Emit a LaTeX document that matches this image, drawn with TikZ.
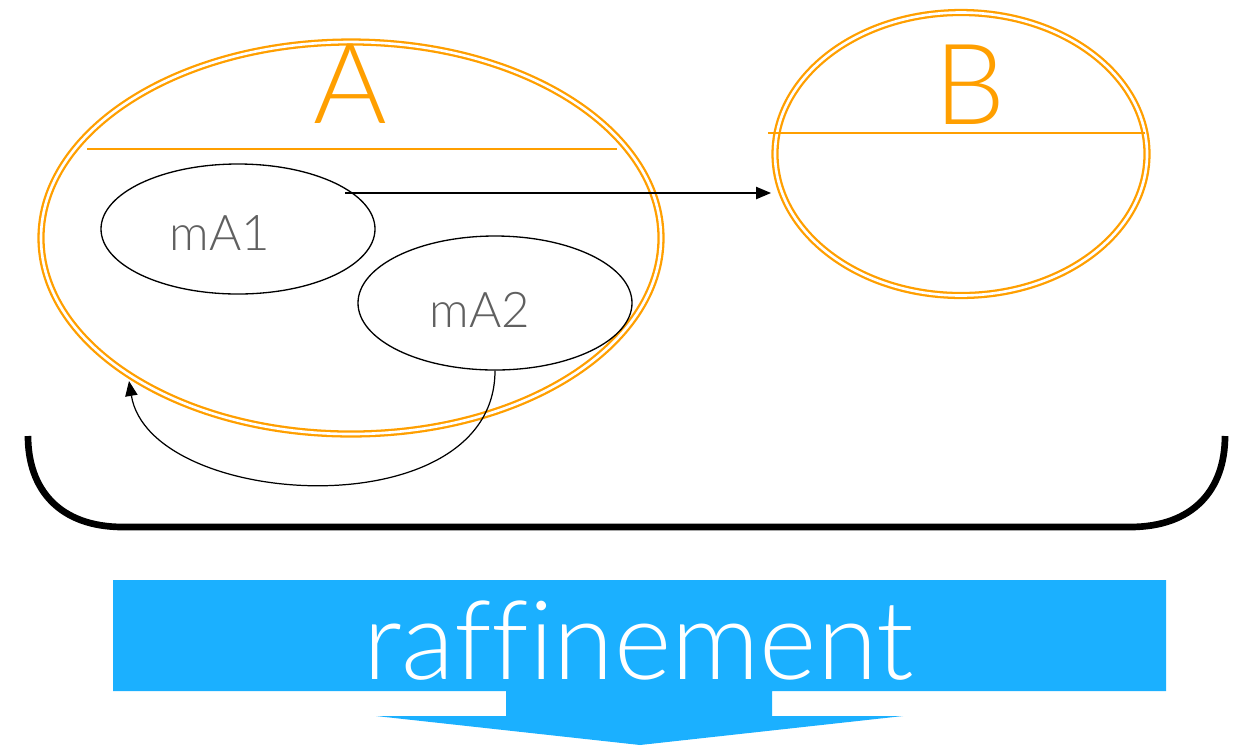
\documentclass[tikz,border=0pt]{standalone}
\usepackage{fontspec}
\setmainfont{Lato Light}[Ligatures=NoCommon]
\usetikzlibrary{shapes.geometric,arrows.meta}
\definecolor{setorange}{RGB}{255,159,0}
\definecolor{labelgray}{RGB}{96,96,96}
\definecolor{refineblue}{RGB}{27,176,255}
\begin{document}
\begin{tikzpicture}[x=0.02cm,y=-0.02cm,
  setellipse/.style={ellipse,draw=setorange,double=white,line width=1.3pt,
    double distance=1.5pt,inner sep=0pt},
  subellipse/.style={ellipse,draw=black,line width=0.75pt,inner sep=0pt},
  divider/.style={draw=setorange,line width=1pt},
  biglabel/.style={anchor=base,text=setorange,font=\fontsize{64}{64}\selectfont,inner sep=0pt},
  sublabel/.style={anchor=base,text=labelgray,font=\fontsize{28}{28}\selectfont,inner sep=0pt},
  link/.style={draw=black,line width=0.7pt,-{Triangle[length=8.5pt,width=7pt]}},
]
\useasboundingbox (0,0) rectangle (1247,745);

% sets A and B
\node[setellipse,minimum width=620*0.02cm,minimum height=392*0.02cm] (A) at (351,238) {};
\node[setellipse,minimum width=372*0.02cm,minimum height=283*0.02cm] (B) at (961,154) {};
\draw[divider] (87,149) -- (617,149);
\draw[divider] (768,133) -- (1145,133);
\node[biglabel] (Alabel) at (350,123) {A};
\node[biglabel] (Blabel) at (970,124) {B};

% members of A
\node[subellipse,minimum width=274*0.02cm,minimum height=130*0.02cm] (mA1) at (238,229) {};
\node[subellipse,minimum width=274*0.02cm,minimum height=134*0.02cm] (mA2) at (495,303) {};
\node[sublabel] (mA1label) at (220,250) {mA1};
\node[sublabel] (mA2label) at (480,327) {mA2};

% connectors
\coordinate (src1) at (345,193);
\coordinate (dst1) at (771,193);
\draw[link] (src1) -- (dst1);
\coordinate (dst2) at (129,381);
\draw[link] (mA2.south) .. controls (495,530) and (150,510) .. (dst2);

% grouping bracket
\coordinate (brL) at (28,436);
\coordinate (brR) at (1225,436);
\draw[line width=3.8pt,black] (brL) .. controls (28,490) and (60,527) .. (123,527)
  -- (1130,527) .. controls (1193,527) and (1225,490) .. (brR);

% refinement arrow
\fill[refineblue] (113,580) -- (1166,580) -- (1166,691) -- (772,691) -- (772,716)
  -- (903,716) -- (640,745) -- (376,716) -- (506,716) -- (506,691) -- (113,691) -- cycle;
\node[anchor=base,text=white,font=\fontsize{62.5}{62.5}\selectfont,inner sep=0pt] (refine) at (639,679) {raffinement};
\end{tikzpicture}
\end{document}
